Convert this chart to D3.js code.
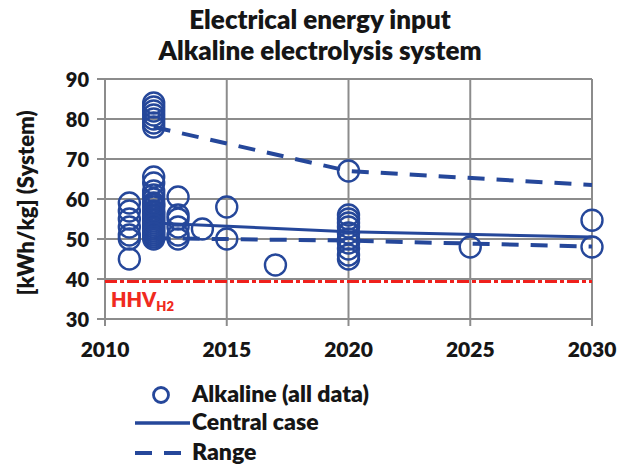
<!DOCTYPE html>
<html>
<head>
<meta charset="utf-8">
<script src="https://cdn.jsdelivr.net/npm/d3@7"></script>
<style>
  body { margin: 0; background: #fff; }
  text { font-family: Lato, "Open Sans", sans-serif; font-weight: 800; }
</style>
</head>
<body>
<svg id="chart" width="619" height="465"></svg>
<script>
// data
var xTicks = [2010, 2015, 2020, 2025, 2030];
var yTicks = [30, 40, 50, 60, 70, 80, 90];

var pointYears = [
    2011, 2011, 2011, 2011, 2011, 2011, 2011,
    2012, 2012, 2012, 2012, 2012, 2012, 2012,
    2012, 2012, 2012, 2012, 2012, 2012, 2012, 2012, 2012, 2012,
    2012, 2012, 2012, 2012, 2012, 2012, 2012, 2012, 2012,
    2012, 2012, 2012, 2012,
    2013, 2013, 2013, 2013, 2013, 2013,
    2014,
    2015, 2015,
    2017,
    2020, 2020, 2020, 2020, 2020, 2020, 2020, 2020, 2020, 2020, 2020,
    2025,
    2030, 2030
];
var pointValues = [
    59, 57, 55, 53, 51, 50, 45,
    84, 83, 82, 81, 80, 79, 78,
    65.5, 64, 62, 61, 60, 59, 58, 57, 56, 55.5,
    55, 54.5, 54, 53, 52.5, 52, 51, 50.5, 50,
    58.5, 56.5, 53.5, 51.5,
    60.5, 56, 55, 53, 51, 50,
    52.5,
    58, 50,
    43.5,
    67, 56, 55, 54, 53, 51.5, 50, 49, 47.5, 46, 45,
    48,
    54.7, 48
];

var lineYears = [2012, 2020, 2030];
var centralCase = [54, 51.8, 50.5];
var rangeHigh = [78, 67, 63.5];
var rangeLow = [50.2, 49.6, 48.1];
var hhvH2 = 39.4;

var svg = d3.select("#chart");
var blue = "#25479a";
var grid = "#8c8c8c";
var ink = "#161616";

var x = d3.scaleLinear().domain([2010, 2030]).range([105, 592]);
var y = d3.scaleLinear().domain([30, 90]).range([319, 79]);

// gridlines
svg.append("g").selectAll("line").data(yTicks).enter().append("line")
    .attr("x1", 97).attr("x2", x(2030))
    .attr("y1", function (d) { return y(d); })
    .attr("y2", function (d) { return y(d); })
    .attr("stroke", grid).attr("stroke-width", 2);

svg.append("g").selectAll("line").data(xTicks).enter().append("line")
    .attr("x1", function (d) { return x(d); })
    .attr("x2", function (d) { return x(d); })
    .attr("y1", y(90)).attr("y2", y(30) + 7)
    .attr("stroke", grid).attr("stroke-width", 2);

// tick labels
svg.append("g").selectAll("text").data(yTicks).enter().append("text")
    .attr("x", 89).attr("y", function (d) { return y(d) + 7.5; })
    .attr("text-anchor", "end").attr("font-size", 20).attr("fill", ink)
    .text(function (d) { return d; });

svg.append("g").selectAll("text").data(xTicks).enter().append("text")
    .attr("x", function (d) { return x(d); }).attr("y", 357)
    .attr("text-anchor", "middle").attr("font-size", 21).attr("fill", ink)
    .text(function (d) { return d; });

svg.append("text")
    .attr("transform", "translate(34,203) rotate(-90)")
    .attr("text-anchor", "middle").attr("font-size", 22).attr("fill", ink)
    .text("[kWh/kg] (System)");

// title
svg.append("text").attr("x", 320).attr("y", 29).attr("text-anchor", "middle")
    .attr("font-size", 26).attr("fill", ink).text("Electrical energy input");
svg.append("text").attr("x", 320).attr("y", 60).attr("text-anchor", "middle")
    .attr("font-size", 26).attr("fill", ink).text("Alkaline electrolysis system");

// HHV line
svg.append("line")
    .attr("x1", x(2010)).attr("x2", x(2030))
    .attr("y1", y(hhvH2)).attr("y2", y(hhvH2))
    .attr("stroke", "#f0201c").attr("stroke-width", 3)
    .attr("stroke-dasharray", "12,3,4,3");

var hhv = svg.append("text").attr("x", 111).attr("y", 307)
    .attr("font-size", 20).attr("fill", "#f02a1e");
hhv.append("tspan").text("HHV");
hhv.append("tspan").attr("font-size", 13).attr("dy", 4).text("H2");

// lines
var line = d3.line()
    .x(function (d, i) { return x(lineYears[i]); })
    .y(function (d) { return y(d); });

svg.append("path").attr("d", line(centralCase))
    .attr("fill", "none").attr("stroke", blue).attr("stroke-width", 3);
svg.append("path").attr("d", line(rangeHigh))
    .attr("fill", "none").attr("stroke", blue).attr("stroke-width", 4)
    .attr("stroke-dasharray", "17,12");
svg.append("path").attr("d", line(rangeLow))
    .attr("fill", "none").attr("stroke", blue).attr("stroke-width", 4)
    .attr("stroke-dasharray", "17,12");

// points
svg.append("g").selectAll("circle").data(pointValues).enter().append("circle")
    .attr("cx", function (d, i) { return x(pointYears[i]); })
    .attr("cy", function (d) { return y(d); })
    .attr("r", 10.5)
    .attr("fill", "none").attr("stroke", blue).attr("stroke-width", 2.4);

// legend
var leg = svg.append("g");
leg.append("circle").attr("cx", 161).attr("cy", 395).attr("r", 7.5)
    .attr("fill", "none").attr("stroke", blue).attr("stroke-width", 2.8);
leg.append("text").attr("x", 192).attr("y", 402).attr("font-size", 23)
    .attr("fill", ink).text("Alkaline (all data)");
leg.append("line").attr("x1", 135).attr("x2", 190).attr("y1", 423).attr("y2", 423)
    .attr("stroke", blue).attr("stroke-width", 3.5);
leg.append("text").attr("x", 192).attr("y", 430).attr("font-size", 23)
    .attr("fill", ink).text("Central case");
leg.append("line").attr("x1", 135).attr("x2", 190).attr("y1", 453).attr("y2", 453)
    .attr("stroke", blue).attr("stroke-width", 4).attr("stroke-dasharray", "17,12");
leg.append("text").attr("x", 192).attr("y", 460).attr("font-size", 23)
    .attr("fill", ink).text("Range");
</script>
</body>
</html>
